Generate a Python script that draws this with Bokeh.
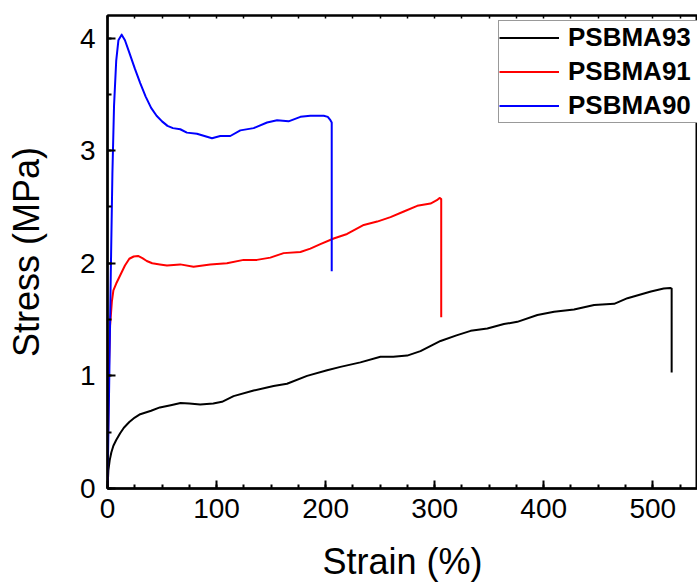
from bokeh.plotting import figure
from bokeh.models import (Range1d, SingleIntervalTicker, LinearAxis, Legend, LegendItem,
                          CustomJSTickFormatter)
from bokeh.embed import file_html
from bokeh.resources import INLINE

# PSBMA93 (black)
x93 = [0, 0.8, 2, 3.5, 5.4, 8, 11.6, 15, 20, 25, 30, 40, 48, 58, 67, 75, 85, 97, 105, 115.6,
       134, 152.3, 164.6, 183, 201.4, 213.6, 231.9, 250.3, 262, 274.8, 287, 305.4, 320, 333,
       348.3, 363.5, 375.8, 394.2, 409.5, 427.8, 446.2, 464.6, 476.8, 498.3, 510, 516, 517.3,
       517.3]
y93 = [0, 0.16, 0.25, 0.32, 0.38, 0.43, 0.49, 0.54, 0.59, 0.63, 0.66, 0.69, 0.72, 0.74, 0.76,
       0.755, 0.745, 0.755, 0.77, 0.82, 0.87, 0.91, 0.93, 1.00, 1.05, 1.08, 1.12, 1.17, 1.17,
       1.18, 1.22, 1.31, 1.36, 1.40, 1.42, 1.46, 1.48, 1.54, 1.57, 1.59, 1.63, 1.64, 1.69,
       1.75, 1.775, 1.78, 1.775, 1.03]

# PSBMA91 (red)
x91 = [0, 0.8, 1.5, 2.4, 4, 5.4, 8, 10, 13, 16, 20, 24, 28, 32, 36, 41, 48, 54.5, 66.7, 78.9,
       94.2, 109.5, 124.8, 137, 149.3, 161.5, 176.9, 186, 195.2, 207.4, 219.7, 235, 247.3,
       259.5, 271.7, 284, 296.2, 302, 304.5, 306, 306]
y91 = [0, 0.75, 1.15, 1.45, 1.66, 1.76, 1.82, 1.86, 1.92, 1.98, 2.04, 2.06, 2.065, 2.045, 2.02,
       2.0, 1.99, 1.98, 1.99, 1.97, 1.99, 2.00, 2.03, 2.03, 2.05, 2.09, 2.10, 2.13, 2.17, 2.22,
       2.26, 2.34, 2.37, 2.41, 2.46, 2.51, 2.53, 2.56, 2.58, 2.57, 1.52]

# PSBMA90 (blue)
x90 = [0, 1.5, 3, 4.5, 6, 8, 10, 13, 16, 20, 25, 30, 35, 40, 45, 50, 55, 60, 66.7, 72.8, 82,
       95.8, 103.4, 112.6, 121.8, 134, 146.3, 155.5, 166, 176.9, 186, 198.3, 202, 204.4,
       205.6, 205.6]
y90 = [0, 0.9, 1.9, 2.8, 3.4, 3.8, 3.98, 4.03, 3.98, 3.87, 3.73, 3.6, 3.48, 3.38, 3.31, 3.26,
       3.22, 3.2, 3.19, 3.16, 3.15, 3.11, 3.13, 3.13, 3.18, 3.20, 3.25, 3.27, 3.26, 3.30, 3.31,
       3.31, 3.30, 3.27, 3.25, 1.93]

names = ["PSBMA93", "PSBMA91", "PSBMA90"]
colors = ["black", "red", "blue"]
x_ticks_interval = 100
y_ticks_interval = 1

FONT = "Liberation Sans"

p = figure(frame_width=590, frame_height=473, output_backend="svg", toolbar_location=None,
           x_range=Range1d(0, 541), y_range=Range1d(0, 4.2),
           min_border_left=107, min_border_right=0, min_border_top=15, min_border_bottom=95,
           x_axis_label="Strain (%)", y_axis_label="Stress (MPa)")
p.grid.visible = False
p.outline_line_color = "black"
p.outline_line_width = 2
p.background_fill_color = "white"
p.border_fill_color = "white"

p.xaxis.ticker = SingleIntervalTicker(interval=x_ticks_interval, num_minor_ticks=4)
p.yaxis.ticker = SingleIntervalTicker(interval=y_ticks_interval, num_minor_ticks=2)

for ax in [p.xaxis[0], p.yaxis[0]]:
    ax.axis_line_width = 2.5
    ax.axis_line_color = "black"
    ax.major_tick_in = 8
    ax.major_tick_out = 0
    ax.minor_tick_in = 4
    ax.minor_tick_out = 0
    ax.major_tick_line_width = 2
    ax.minor_tick_line_width = 2
    ax.major_label_text_font = FONT
    ax.major_label_text_font_size = "28px"
    ax.major_label_text_color = "black"
    ax.axis_label_text_font = FONT
    ax.axis_label_text_font_size = "36px"
    ax.axis_label_text_font_style = "normal"
    ax.axis_label_text_color = "black"

p.xaxis.major_label_standoff = 10
p.yaxis.major_label_standoff = 12
p.xaxis.axis_label_standoff = 20
p.yaxis.axis_label_standoff = 30

top = LinearAxis(ticker=SingleIntervalTicker(interval=25, num_minor_ticks=0),
                 formatter=CustomJSTickFormatter(code="return ''"),
                 major_label_text_font_size="10px", major_label_standoff=0,
                 major_tick_in=3, major_tick_out=0,
                 minor_tick_in=0, minor_tick_out=0, axis_line_width=2, major_tick_line_width=1.5)
p.add_layout(top, "above")

xs = [x93, x91, x90]
ys = [y93, y91, y90]
items = []
for xx, yy, c, n in zip(xs, ys, colors, names):
    r = p.line(xx, yy, line_color=c, line_width=2, line_join="round")
    items.append(LegendItem(label=n, renderers=[r]))

legend = Legend(items=items, location=(391, 365))
legend.label_text_font = FONT
legend.label_text_font_size = "26px"
legend.label_text_font_style = "bold"
legend.label_text_color = "black"
legend.glyph_width = 60
legend.glyph_height = 33
legend.label_height = 33
legend.label_width = 140
legend.label_standoff = 9
legend.spacing = 1
legend.padding = 0
legend.margin = 0
legend.border_line_color = "#333333"
legend.border_line_width = 1
legend.background_fill_alpha = 1
p.add_layout(legend, "center")

open("out.html", "w").write(file_html(p, INLINE))
